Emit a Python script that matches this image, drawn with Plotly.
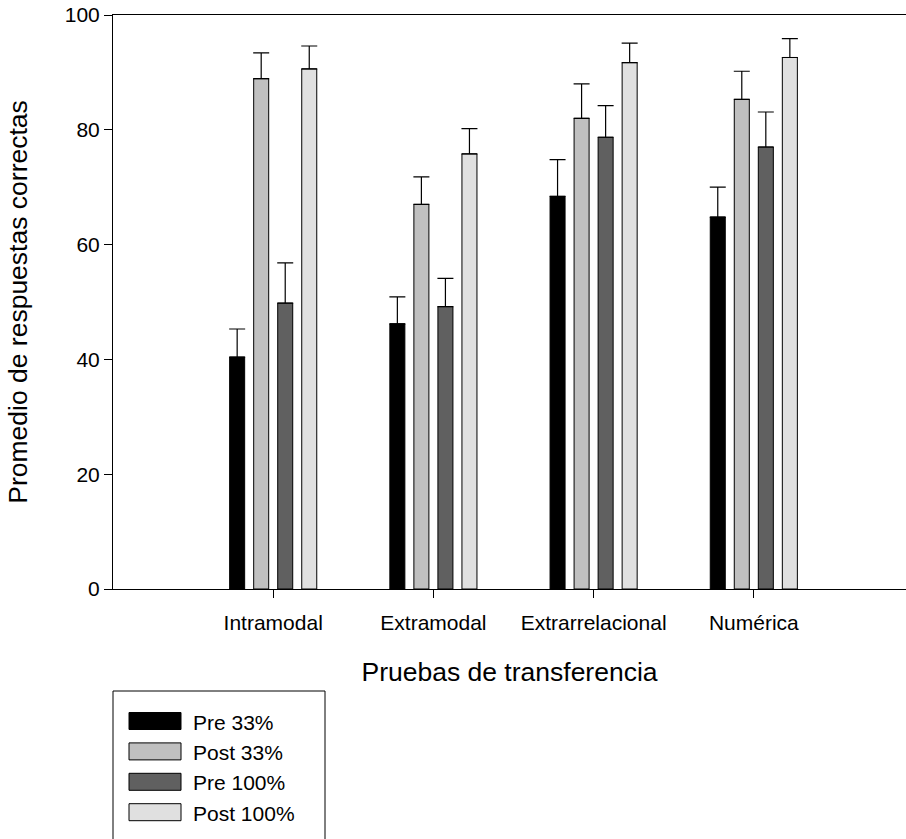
import plotly.graph_objects as go

categories = ["Intramodal", "Extramodal", "Extrarrelacional", "Numérica"]
series_names = ["Pre 33%", "Post 33%", "Pre 100%", "Post 100%"]
pre33 = [40.4, 46.2, 68.4, 64.8]
post33 = [88.9, 67.0, 82.0, 85.3]
pre100 = [49.8, 49.2, 78.7, 77.0]
post100 = [90.6, 75.8, 91.7, 92.6]
err_pre33 = [4.9, 4.7, 6.4, 5.2]
err_post33 = [4.5, 4.8, 6.0, 4.9]
err_pre100 = [7.0, 4.9, 5.5, 6.1]
err_post100 = [4.0, 4.4, 3.4, 3.3]
colors = ["#000000", "#c0c0c0", "#606060", "#e0e0e0"]
y_ticks = [0, 20, 40, 60, 80, 100]

values = [pre33, post33, pre100, post100]
errors = [err_pre33, err_post33, err_pre100, err_post100]

FONT = "Liberation Sans, Arial, sans-serif"
W, H = 906, 839
ML, MR, MT, MB = 113, 0, 15, 250
PW, PH = W - ML - MR, H - MT - MB

fig = go.Figure()
for name, vals, errs, col in zip(series_names, values, errors, colors):
    fig.add_trace(go.Bar(
        x=categories, y=vals, name=name,
        marker=dict(color=col, line=dict(color="#000000", width=1)),
        error_y=dict(type="data", array=errs, arrayminus=[0] * len(errs),
                     symmetric=False, color="#000000", thickness=1.2, width=8),
        showlegend=False,
    ))

def px_x(px):
    return (px - ML) / PW

def px_y(py):
    return (H - MB - py) / PH

shapes = []
annotations = []
# legend box
shapes.append(dict(type="rect", xref="paper", yref="paper",
                   x0=px_x(113), x1=px_x(325), y0=px_y(860), y1=px_y(691),
                   line=dict(color="#000000", width=1), fillcolor="rgba(0,0,0,0)"))
row0, row_step = 721, 30.4
for i, (name, col) in enumerate(zip(series_names, colors)):
    cy = row0 + i * row_step
    shapes.append(dict(type="rect", xref="paper", yref="paper",
                       x0=px_x(129), x1=px_x(181), y0=px_y(cy + 8.5), y1=px_y(cy - 8.5),
                       line=dict(color="#000000", width=1), fillcolor=col))
    annotations.append(dict(xref="paper", yref="paper", x=px_x(191), y=px_y(cy + 1),
                            text=name, showarrow=False, xanchor="left", yanchor="middle",
                            font=dict(family=FONT, size=21, color="#000000")))

fig.update_layout(
    width=W, height=H,
    margin=dict(l=ML, r=MR, t=MT, b=MB, pad=0),
    paper_bgcolor="white", plot_bgcolor="white",
    barmode="group", bargap=0.4, bargroupgap=0.375,
    font=dict(family=FONT, color="#000000"),
    shapes=shapes, annotations=annotations,
    xaxis=dict(
        range=[-1.0, 3.95], showgrid=False, zeroline=False,
        showline=True, linecolor="#000000", linewidth=1, mirror=True,
        ticks="outside", ticklen=8, tickcolor="#000000", tickwidth=1,
        ticklabelstandoff=7,
        tickfont=dict(family=FONT, size=21, color="#000000"),
        title=dict(text="Pruebas de transferencia", standoff=29,
                   font=dict(family=FONT, size=26.5, color="#000000")),
    ),
    yaxis=dict(
        range=[0, 100], tickvals=y_ticks, showgrid=False, zeroline=False,
        showline=True, linecolor="#000000", linewidth=1,
        ticks="outside", ticklen=8, tickcolor="#000000", tickwidth=1,
        tickfont=dict(family=FONT, size=21, color="#000000"),
        title=dict(text="Promedio de respuestas correctas", standoff=29,
                   font=dict(family=FONT, size=26.5, color="#000000")),
    ),
)

fig.write_html(
    "out.html",
    config={"displayModeBar": False},
    post_script="document.body.style.margin='0';document.body.style.overflow='hidden';",
)
